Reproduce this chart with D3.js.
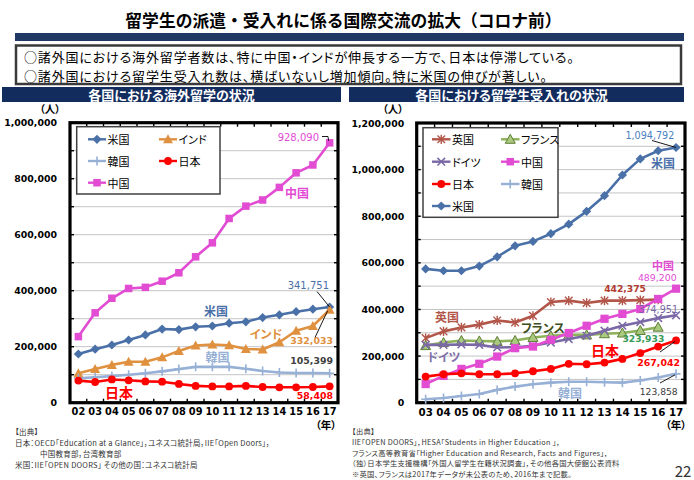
<!DOCTYPE html>
<html><head><meta charset="utf-8">
<script src="https://cdn.jsdelivr.net/npm/d3@7"></script>
<style>
body{margin:0;background:#fff;}
svg{display:block;}
.cjk{font-family:'Noto Sans CJK JP',sans-serif;font-feature-settings:"palt";}
.cjkf{font-family:'Noto Sans CJK JP',sans-serif;}
.num{font-family:'DejaVu Sans',sans-serif;}
</style></head><body>
<svg id="c" width="694" height="480"></svg>
<script>
// ---------- data ----------
const yearsOut = ["02","03","04","05","06","07","08","09","10","11","12","13","14","15","16","17"];
const outUS    = [174000,191000,206000,224000,242000,263000,261000,271000,274000,284000,289000,304000,314000,325000,334000,341751];
const outIndia = [105000,120000,135000,146000,146000,162000,185000,204000,208000,205000,192000,190000,216000,257000,274000,332033];
const outKorea = [87000,91000,95000,100000,105000,112000,120000,128000,128000,128000,121000,113000,108000,106000,106000,105399];
const outJapan = [79000,74000,83000,80000,76000,75000,67000,60000,58000,58000,60000,56000,55000,55000,56000,58408];
const outChina = [236000,321000,373000,408000,412000,434000,464000,521000,571000,658000,702000,724000,769000,821000,849000,928090];
const yTicksOut = [0,200000,400000,600000,800000,1000000];

const yearsIn   = ["03","04","05","06","07","08","09","10","11","12","13","14","15","16","17"];
const inUK      = [277000,306000,323000,335000,353000,344000,373000,432000,438000,428000,438000,438000,440000,442375];
const inFrance  = [245000,258000,267000,265000,263000,267000,280000,287000,291000,291000,296000,299000,310000,323933];
const inGermany = [248000,248000,250000,248000,237000,238000,244000,258000,273000,287000,309000,330000,346000,363000,374951];
const inChina   = [80000,115000,145000,167000,198000,234000,241000,270000,299000,330000,360000,381000,402000,445000,489200];
const inJapan   = [112000,122000,126000,122000,122000,126000,135000,145000,167000,165000,172000,188000,213000,241000,267042];
const inKorea   = [15000,20000,29000,37000,55000,69000,79000,86000,90000,90000,88000,86000,95000,108000,123858];
const inUS      = [574000,566000,566000,586000,626000,673000,692000,725000,766000,821000,888000,977000,1046000,1081000,1094792];
const yTicksIn = [0,200000,400000,600000,800000,1000000,1200000];

const titleText = "留学生の派遣・受入れに係る国際交流の拡大（コロナ前）";
const bullets = ["○諸外国における海外留学者数は、特に中国・インドが伸長する一方で、日本は停滞している。",
                 "○諸外国における留学生受入れ数は、横ばいないし増加傾向。特に米国の伸びが著しい。"];
const headers = ["各国における海外留学の状況","各国における留学生受入れの状況"];
const srcLeft = ["【出典】","日本：OECD「Education at a Glance」，ユネスコ統計局，IIE「Open Doors」，","中国教育部，台湾教育部","米国：IIE「OPEN DOORS」 その他の国：ユネスコ統計局"];
const srcRight = ["【出典】","IIE「OPEN DOORS」，HESA「Students in Higher Education 」，","フランス高等教育省「Higher Education and Research, Facts and Figures」，","（独）日本学生支援機構「外国人留学生在籍状況調査」，その他各国大使館公表資料","※英国、フランスは2017年データが未公表のため、2016年まで記載。"];

// ---------- styles ----------
const C = {us:'#4a70a8', india:'#e0913f', korea:'#97b0d6', japan:'#ff0000', china:'#e24cd3',
           uk:'#b3564a', france:'#8db25a', germany:'#7a68a6'};

const svg = d3.select('#c');

function marker(g, type, color, cx, cy, big){
  const k = big ? 1.1 : 1;
  if(type==='diamond'){ const r=4.6*k;
    g.append('path').attr('d',`M${cx},${cy-r}L${cx+r},${cy}L${cx},${cy+r}L${cx-r},${cy}Z`).attr('fill',color);
  } else if(type==='square'){ const s=7.5*k;
    g.append('rect').attr('x',cx-s/2).attr('y',cy-s/2).attr('width',s).attr('height',s).attr('fill',color);
  } else if(type==='triangle'){ const r=5*k;
    g.append('path').attr('d',`M${cx},${cy-r}L${cx+r},${cy+r*0.8}L${cx-r},${cy+r*0.8}Z`).attr('fill',color.fill||color).attr('stroke',color.stroke||'none').attr('stroke-width',1);
  } else if(type==='circle'){
    g.append('circle').attr('cx',cx).attr('cy',cy).attr('r',3.9*k).attr('fill',color);
  } else if(type==='plus'){ const r=4.5;
    g.append('path').attr('d',`M${cx-r},${cy}H${cx+r}M${cx},${cy-r}V${cy+r}`).attr('stroke',color).attr('stroke-width',1.6);
  } else if(type==='x'){ const r=3.8;
    g.append('path').attr('d',`M${cx-r},${cy-r}L${cx+r},${cy+r}M${cx-r},${cy+r}L${cx+r},${cy-r}`).attr('stroke',color).attr('stroke-width',1.5);
  } else if(type==='asterisk'){ const r=3.8;
    g.append('path').attr('d',`M${cx-r},${cy-r}L${cx+r},${cy+r}M${cx-r},${cy+r}L${cx+r},${cy-r}M${cx},${cy-r-0.8}V${cy+r+0.8}`).attr('stroke',color).attr('stroke-width',1.4);
  }
}
function mcol(s){ return s.mfill ? {fill:s.mfill, stroke:s.mstroke} : s.color; }

function drawChart(o){
  const g = svg.append('g');
  const x = d3.scaleBand().domain(o.years).range([o.left,o.right]);
  const y = d3.scaleLinear().domain([0,o.ymax]).range([o.bottom,o.top]);
  const cx = d => x(d) + x.bandwidth()/2;
  g.selectAll('line.grid').data(d3.range(100000,o.ymax,100000)).join('line')
    .attr('x1',o.left).attr('x2',o.right).attr('y1',d=>y(d)).attr('y2',d=>y(d))
    .attr('stroke','#c4c4c4').attr('stroke-width',1);
  const ya = g.append('g').attr('transform',`translate(${o.left},0)`)
    .call(d3.axisLeft(y).tickValues(o.yticks).tickFormat(d3.format(',')).tickSize(0).tickPadding(o.ypad));
  ya.select('.domain').remove();
  ya.selectAll('text').attr('class','num').style('font-weight','bold').style('font-size',o.yfs+'px').attr('fill','#000');
  const xa = g.append('g').attr('transform',`translate(0,${o.bottom})`)
    .call(d3.axisBottom(x).tickSize(0).tickPadding(o.xpad));
  xa.select('.domain').remove();
  xa.selectAll('text').attr('class','num').style('font-weight','bold').style('font-size',o.xfs+'px').attr('fill','#000');
  // frame + ticks
  const tk = g.append('g').attr('stroke','#000').attr('stroke-width',1.4);
  o.years.slice(1).forEach(d=>{
    tk.append('line').attr('x1',x(d)).attr('x2',x(d)).attr('y1',o.top).attr('y2',o.top+4);
    tk.append('line').attr('x1',x(d)).attr('x2',x(d)).attr('y1',o.bottom).attr('y2',o.bottom-4);
  });
  d3.range(100000,o.ymax,100000).forEach(v=>{
    tk.append('line').attr('x1',o.left).attr('x2',o.left+4).attr('y1',y(v)).attr('y2',y(v));
    tk.append('line').attr('x1',o.right).attr('x2',o.right-4).attr('y1',y(v)).attr('y2',y(v));
  });
  g.append('rect').attr('x',o.left).attr('y',o.top).attr('width',o.right-o.left).attr('height',o.bottom-o.top)
    .attr('fill','none').attr('stroke','#000').attr('stroke-width',3.2);
  o.series.forEach(s=>{
    const pts = s.values.map((v,i)=>[cx(o.years[i]), y(v)]);
    g.append('path').attr('d',d3.line()(pts)).attr('fill','none').attr('stroke',s.color)
      .attr('stroke-width',2.6).attr('stroke-linejoin','round');
    pts.forEach(p=>marker(g,s.marker,mcol(s),p[0],p[1],s.big));
  });
  // legend
  const L = o.legend;
  g.append('rect').attr('x',L.x).attr('y',L.y).attr('width',L.w).attr('height',L.h)
    .attr('fill','#fff').attr('stroke','#404040').attr('stroke-width',1.5);
  L.order.forEach((name,i)=>{
    const s = o.series.find(t=>t.name===name);
    const col = i % 2, row = Math.floor(i/2);
    const lx = L.cols[col], ly = L.rows[row];
    g.append('line').attr('x1',lx).attr('x2',lx+L.len).attr('y1',ly).attr('y2',ly)
      .attr('stroke',s.color).attr('stroke-width',2.4);
    marker(g,s.marker,mcol(s),lx+L.len/2,ly,false);
    g.append('text').attr('class','cjk').attr('x',lx+L.len+1.5).attr('y',ly).attr('dominant-baseline','central')
      .style('font-size','11px').attr('fill','#000').text(name);
  });
  return {g,x,y,cx};
}

function label(g, x, y, txt, color, cls, size, weight, anchor){
  g.append('text').attr('class',cls).attr('x',x).attr('y',y).attr('dominant-baseline','central')
    .attr('text-anchor',anchor||'middle').style('font-size',size+'px').style('font-weight',weight||'normal')
    .attr('fill',color).text(txt);
}
function leader(g, x1,y1,x2,y2, pts){
  const arr = pts || [[x1,y1],[x2,y2]];
  g.append('path').attr('d',d3.line()(arr)).attr('fill','none').attr('stroke','#000').attr('stroke-width',0.9);
}

// ---------- header ----------
label(svg, 343.5, 20, titleText, '#000', 'cjkf', 16.8, 'bold');
svg.append('rect').attr('x',15).attr('y',33).attr('width',669).attr('height',8).attr('fill','#1f3864');
svg.append('rect').attr('x',16).attr('y',45.5).attr('width',665).attr('height',38.5)
  .attr('fill','#fff').attr('stroke','#3a3a3a').attr('stroke-width',2.5);
bullets.forEach((t,i)=>{
  svg.append('text').attr('class','cjk').attr('x',24).attr('y',56.2+i*18.9).attr('dominant-baseline','central')
    .style('font-size','13px').style('letter-spacing','0.85px').attr('fill','#000').text(t);
});
[[2,341],[349,684]].forEach((r,i)=>{
  svg.append('rect').attr('x',r[0]).attr('y',87).attr('width',r[1]-r[0]).attr('height',15).attr('fill','#132c5e');
  label(svg,(r[0]+r[1])/2 + (i?-5:0),94.8,headers[i],'#fff','cjk',13,'bold');
});

// ---------- left chart ----------
const A = drawChart({
  years: yearsOut, left:70, right:338, top:122.7, bottom:402.7, ymax:1000000, yticks:yTicksOut,
  ypad:13, yfs:9.4, xpad:5, xfs:9.8,
  series:[
    {name:'米国', values:outUS, color:C.us, marker:'diamond'},
    {name:'インド', values:outIndia, color:C.india, marker:'triangle'},
    {name:'韓国', values:outKorea, color:C.korea, marker:'plus'},
    {name:'日本', values:outJapan, color:C.japan, marker:'circle'},
    {name:'中国', values:outChina, color:C.china, marker:'square'}
  ],
  legend:{x:76.7,y:126.7,w:143.3,h:67.3, rows:[139.3,161,182.7], cols:[88,159], len:18,
          order:['米国','インド','韓国','日本','中国']}
});
{
  const g = A.g, X = A.cx('17');
  label(g,50,108,'（人）','#000','cjk',10.5,'bold');
  label(g,326,424,'（年）','#000','cjk',10.5,'bold');
  label(g,319,137.3,'928,090',C.china,'num',10,'normal','end');
  leader(g,0,0,0,0,[[322,136.5],[328,136.5],[X-1,A.y(outChina[15])-2]]);
  label(g,297,192.7,'中国',C.china,'cjk',12,'bold');
  label(g,329,285,'341,751',C.us,'num',10,'normal','end');
  leader(g,317,291.5,X,A.y(outUS[15]));
  label(g,216,310.7,'米国',C.us,'cjk',12,'bold');
  label(g,266,333.3,'インド',C.india,'cjk',12,'bold');
  label(g,333,340.7,'332,033',C.india,'num',9.4,'bold','end');
  leader(g,315,337.5,X-2,A.y(outIndia[15])+1);
  label(g,217.5,356.7,'韓国',C.korea,'cjk',12,'bold');
  label(g,333,360,'105,399','#404040','num',9.4,'bold','end');
  label(g,119,391.7,'日本',C.japan,'cjk',14,'bold');
  label(g,333,395.7,'58,408',C.japan,'num',9.4,'bold','end');
  srcLeft.forEach((t,i)=>{
    svg.append('text').attr('class','cjk').attr('x',i===2?40:15).attr('y',[431,442,453,464][i])
      .attr('dominant-baseline','central').style('font-size','7.5px').style('letter-spacing','0.25px').attr('fill','#333').text(t);
  });
}

// ---------- right chart ----------
const B = drawChart({
  years: yearsIn, left:416.7, right:685, top:123, bottom:402.7, ymax:1200000, yticks:yTicksIn,
  ypad:12.5, yfs:9.4, xpad:6, xfs:10.3,
  series:[
    {name:'英国', values:inUK, color:C.uk, marker:'asterisk'},
    {name:'フランス', values:inFrance, color:C.france, marker:'triangle', mfill:'#a9c97f', mstroke:'#5f7f35'},
    {name:'ドイツ', values:inGermany, color:C.germany, marker:'x'},
    {name:'中国', values:inChina, color:C.china, marker:'square', big:true},
    {name:'日本', values:inJapan, color:C.japan, marker:'circle'},
    {name:'韓国', values:inKorea, color:C.korea, marker:'plus'},
    {name:'米国', values:inUS, color:C.us, marker:'diamond'}
  ],
  legend:{x:423,y:127.7,w:135,h:89.6, rows:[139.3,161.7,184,206], cols:[432,501], len:18.5,
          order:['英国','フランス','ドイツ','中国','日本','韓国','米国']}
});
{
  const g = B.g, X = B.cx('17');
  label(g,393,108,'（人）','#000','cjk',10.5,'bold');
  label(g,676,424,'（年）','#000','cjk',10.5,'bold');
  label(g,674.3,135,'1,094,792','#4a7fc0','num',9.6,'normal','end');
  leader(g,652,140.5,X,B.y(inUS[14]));
  label(g,663,265,'中国',C.china,'cjk',11,'bold');
  label(g,663,162.7,'米国',C.us,'cjk',12,'bold');
  label(g,676.7,277,'489,200',C.china,'num',9.4,'normal','end');
  label(g,646,288.5,'442,375','#b03a2e','num',9.2,'bold','end');
  label(g,678,309.3,'374,951','#7a68a6','num',9.6,'normal','end');
  label(g,447,316.7,'英国',C.uk,'cjk',12,'bold');
  label(g,543,327.3,'フランス','#3d4f22','cjk',12,'bold');
  label(g,664.3,338.3,'323,933','#3a9a5a','num',9.2,'bold','end');
  label(g,444,356.7,'ドイツ','#8070a8','cjk',12,'bold');
  label(g,605,350,'日本',C.japan,'cjk',14,'bold');
  label(g,680,362.7,'267,042',C.japan,'num',9.4,'bold','end');
  leader(g,660,352,X-1,B.y(inJapan[14])+1);
  label(g,677.7,391,'123,858','#404040','num',9.2,'normal','end');
  leader(g,660,383,X-1,B.y(inKorea[14])+1);
  label(g,570,392.7,'韓国',C.korea,'cjk',12,'bold');
  srcRight.forEach((t,i)=>{
    svg.append('text').attr('class','cjk').attr('x',352).attr('y',[431,441.8,452.6,463.4,474.2][i])
      .attr('dominant-baseline','central').style('font-size','7.3px').style('letter-spacing','0.25px').attr('fill','#333').text(t);
  });
  label(svg,683,470,'22','#333','cjk',15,'normal');
}
</script>
</body></html>
